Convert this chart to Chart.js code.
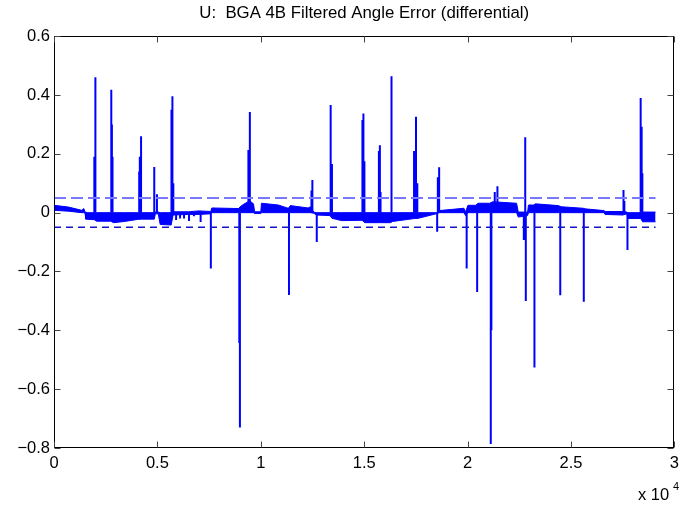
<!DOCTYPE html>
<html>
<head>
<meta charset="utf-8">
<title>BGA 4B Filtered Angle Error</title>
<script src="https://cdn.jsdelivr.net/npm/chart.js@4.4.1/dist/chart.umd.min.js"></script>
<style>
  html, body { margin: 0; padding: 0; background: #fff; }
  canvas { display: block; }
</style>
</head>
<body>
<canvas id="angleChart" width="685" height="510"></canvas>
<script>
// band of the signal (sample index, upper and lower edge)
const envX  = [0, 700, 1344, 1440, 1500, 1540, 1950, 2064, 2740, 2880, 3400, 4032, 4224, 4848, 4900, 5040, 5136, 5664, 5760, 6500, 7000, 7580, 7632, 8300, 8928, 9000, 9200, 9470, 9648, 9700, 10000, 10032, 10848, 11280, 11360, 11424, 12288, 12400, 12560, 12700, 13344, 13440, 13900, 14900, 15024, 15696, 15792, 16272, 16368, 17424, 17568, 18528, 18624, 19824, 19900, 20016, 20400, 20496, 21072, 21216, 22368, 22450, 22900, 22944, 23184, 23280, 24384, 24528, 25584, 25680, 26592, 26650, 27504, 27700, 27744, 28368, 28464, 29088];
const envHi = [0.025, 0.019, 0.008, 0.014, 0.003, 0, 0, 0, 0, 0, 0, 0, 0, 0, 0.002, 0.002, 0, 0, 0.003, 0.003, 0.006, 0.004, 0.016, 0.015, 0.014, 0.020, 0.030, 0.040, 0.030, 0.003, 0.003, 0.032, 0.026, 0.016, 0.016, 0.024, 0.016, 0.020, 0.002, 0, 0, 0, 0, 0, 0, 0, 0, 0, 0, 0, 0, 0, 0.007, 0.015, 0.002, 0.025, 0.025, 0.032, 0.032, 0.037, 0.032, 0.002, 0.002, 0.026, 0.026, 0.030, 0.024, 0.020, 0.015, 0.013, 0.007, 0.004, 0.004, 0.002, 0, 0, 0.002, 0.002];
const envLo = [0.008, 0.005, 0, 0, -0.002, -0.022, -0.024, -0.029, -0.029, -0.034, -0.030, -0.023, -0.022, -0.022, -0.004, -0.004, -0.040, -0.042, -0.008, -0.006, -0.006, -0.004, 0, 0, 0, 0, 0, 0, 0, -0.003, -0.003, 0, 0, 0, 0, 0, 0, 0, -0.002, -0.008, -0.010, -0.019, -0.027, -0.026, -0.034, -0.034, -0.034, -0.034, -0.030, -0.020, -0.020, -0.003, 0, 0, -0.010, 0, 0, 0, 0, 0, 0, -0.015, -0.010, 0, 0, 0, 0, 0, 0, 0, 0, -0.006, -0.008, -0.004, -0.020, -0.020, -0.031, -0.031];

// spikes (sample index, peak value)
const spikeX = [1950, 2002, 2770, 2800, 2830, 4120, 4150, 4210, 4848, 4978, 5680, 5726, 5770, 9400, 9430, 9470, 12450, 12494, 13378, 13440, 14914, 14962, 15010, 15710, 15758, 15790, 16320, 17410, 17506, 17568, 18560, 18624, 21312, 21442, 22786, 27538, 27580, 28368, 28416, 28450,
                5904, 6096, 6288, 6528, 6768, 7090, 7584, 8960, 8990, 11362, 12706, 18528, 19954, 20462, 21120, 21150, 22718, 22814, 23232, 24480, 25618, 27730];
const spikeY = [0.19, 0.46, 0.418, 0.30, 0.19, 0.14, 0.19, 0.26, 0.155, 0.063, 0.35, 0.396, 0.10, 0.213, 0.213, 0.342, 0.075, 0.111, 0.366, 0.165, 0.315, 0.337, 0.175, 0.21, 0.229, 0.07, 0.464, 0.21, 0.326, 0.10, 0.12, 0.154, 0.07, 0.09, 0.256, 0.077, 0.04, 0.39, 0.292, 0.134,
                -0.025, -0.02, -0.02, -0.028, -0.012, -0.032, -0.19, -0.443, -0.73, -0.28, -0.10, -0.065, -0.19, -0.27, -0.786, -0.40, -0.093, -0.30, -0.526, -0.281, -0.303, -0.127];

// threshold lines
const limitX = [0, 29088];
const upperLimit = 0.05;
const lowerLimit = -0.05;

const xTicks = [0, 5000, 10000, 15000, 20000, 25000, 30000];
const yTicks = [-0.8, -0.6, -0.4, -0.2, 0, 0.2, 0.4, 0.6];

const FONT = "'Liberation Sans', Arial, Helvetica, sans-serif";

const pts = (xs, ys) => xs.map((x, i) => ({ x: x, y: ys[i] }));

const spikePts = [];
spikeX.forEach((x, i) => {
	spikePts.push({ x: x, y: 0 }, { x: x, y: spikeY[i] }, { x: x, y: null });
});

// MATLAB style box with inward ticks and the x 10^4 note
const framePlugin = {
	id: 'frame',
	afterLayout(chart) {
		// centre the title over the plot box, not the whole canvas
		const a = chart.chartArea;
		if (chart.titleBlock) {
			chart.titleBlock.left = a.left;
			chart.titleBlock.right = a.right;
		}
	},
	afterDraw(chart) {
		const ctx = chart.ctx;
		const a = chart.chartArea;
		const xs = chart.scales.x, ys = chart.scales.y;
		const L = Math.round(a.left) + 0.5, R = Math.round(a.right) - 0.5;
		const T = Math.round(a.top) + 0.5, B = Math.round(a.bottom) - 0.5;
		ctx.save();
		ctx.strokeStyle = '#000';
		ctx.lineWidth = 1;
		ctx.strokeRect(L, T, R - L, B - T);
		ctx.strokeStyle = '#444';
		ctx.beginPath();
		xTicks.forEach(v => {
			const p = Math.round(xs.getPixelForValue(v)) + 0.5;
			ctx.moveTo(p, B); ctx.lineTo(p, B - 6);
			ctx.moveTo(p, T); ctx.lineTo(p, T + 6);
		});
		yTicks.forEach(v => {
			const p = Math.round(ys.getPixelForValue(v)) + 0.5;
			ctx.moveTo(L, p); ctx.lineTo(L + 6, p);
			ctx.moveTo(R, p); ctx.lineTo(R - 6, p);
		});
		ctx.stroke();
		ctx.fillStyle = '#000';
		ctx.textBaseline = 'alphabetic';
		ctx.textAlign = 'left';
		ctx.font = '16.5px ' + FONT;
		ctx.fillText('x 10', 638, 500);
		ctx.font = '11px ' + FONT;
		ctx.fillText('4', 673, 490);
		ctx.restore();
	}
};

new Chart(document.getElementById('angleChart'), {
	type: 'line',
	data: {
		datasets: [
			{
				label: 'lower limit',
				data: pts(limitX, [lowerLimit, lowerLimit]),
				borderColor: '#1414c8',
				borderWidth: 1.5,
				borderDash: [7, 5],
				pointRadius: 0,
				order: 1
			},
			{
				label: 'upper limit',
				data: pts(limitX, [upperLimit, upperLimit]),
				borderColor: '#7878ff',
				borderWidth: 2,
				borderDash: [12, 5],
				pointRadius: 0,
				order: 1
			},
			{
				label: 'band low',
				data: pts(envX, envLo),
				borderColor: '#0000ff',
				borderWidth: 1,
				pointRadius: 0,
				order: 2
			},
			{
				label: 'band high',
				data: pts(envX, envHi),
				borderColor: '#0000ff',
				borderWidth: 1,
				backgroundColor: '#0000ff',
				fill: '-1',
				pointRadius: 0,
				order: 2
			},
			{
				label: 'spikes',
				data: spikePts,
				borderColor: '#0000ff',
				borderWidth: 2,
				pointRadius: 0,
				spanGaps: false,
				order: 2
			}
		]
	},
	options: {
		responsive: false,
		animation: false,
		events: [],
		layout: { padding: { left: 0, right: 6, top: 0, bottom: 0 } },
		plugins: {
			legend: { display: false },
			tooltip: { enabled: false },
			title: {
				display: true,
				text: 'U:  BGA 4B Filtered Angle Error (differential)',
				color: '#000',
				font: { family: FONT, size: 16.8, weight: 'normal' },
				padding: { top: 3, bottom: 13 }
			}
		},
		scales: {
			x: {
				type: 'linear',
				min: 0,
				max: 30000,
				afterBuildTicks: s => { s.ticks = xTicks.map(v => ({ value: v })); },
				afterFit: s => { s.height = 62; },
				grid: { display: false, drawTicks: false },
				border: { display: false },
				ticks: {
					padding: 6,
					color: '#000',
					maxRotation: 0,
					font: { family: FONT, size: 16.5 },
					callback: v => String(v / 10000)
				}
			},
			y: {
				min: -0.8,
				max: 0.6,
				afterBuildTicks: s => { s.ticks = yTicks.map(v => ({ value: v })); },
				afterFit: s => { s.width = 54; },
				grid: { display: false, drawTicks: false },
				border: { display: false },
				ticks: {
					padding: 4,
					color: '#000',
					font: { family: FONT, size: 16.5 },
					callback: v => {
						const r = Math.round(v * 10) / 10;
						return r < 0 ? '\u2212' + Math.abs(r) : String(r);
					}
				}
			}
		}
	},
	plugins: [framePlugin]
});
</script>
</body>
</html>
